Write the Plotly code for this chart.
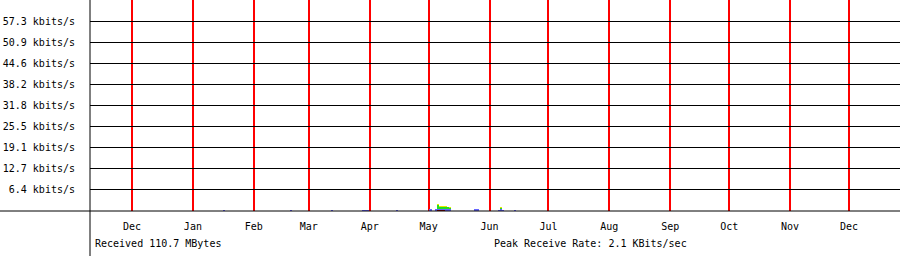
import plotly.graph_objects as go

# ---- data ----
month_ticks = ["2009-12-01", "2010-01-01", "2010-02-01", "2010-03-01", "2010-04-01",
               "2010-05-01", "2010-06-01", "2010-07-01", "2010-08-01", "2010-09-01",
               "2010-10-01", "2010-11-01", "2010-12-01"]
month_labels = ["Dec", "Jan", "Feb", "Mar", "Apr", "May", "Jun", "Jul", "Aug",
                "Sep", "Oct", "Nov", "Dec"]

y_ticks = [6.37, 12.74, 19.11, 25.48, 31.85, 38.22, 44.59, 50.96, 57.33]
y_labels = ["6.4 kbits/s", "12.7 kbits/s", "19.1 kbits/s", "25.5 kbits/s",
            "31.8 kbits/s", "38.2 kbits/s", "44.6 kbits/s", "50.9 kbits/s",
            "57.3 kbits/s"]

days = ["2010-01-17", "2010-02-20", "2010-03-13", "2010-03-29", "2010-03-30",
        "2010-03-31", "2010-04-15", "2010-05-02", "2010-05-05", "2010-05-06",
        "2010-05-07", "2010-05-08", "2010-05-09", "2010-05-10", "2010-05-11",
        "2010-05-12", "2010-05-25", "2010-05-26", "2010-06-06", "2010-06-07",
        "2010-06-08", "2010-06-14"]

total_kbits = [0.3, 0.3, 0.3, 0.3, 0.3, 0.3, 0.3, 0.5, 0.6, 2.1,
               1.5, 1.5, 1.4, 1.4, 1.3, 1.2, 0.4, 0.4, 0.3, 1.1, 0.3, 0.3]
tcp_kbits = [0, 0, 0, 0, 0, 0, 0, 0, 0, 1.8,
             1.3, 1.3, 1.2, 1.2, 1.1, 1.0, 0, 0, 0, 1.0, 0, 0]
http_kbits = [0.3, 0.3, 0.3, 0.3, 0.3, 0.3, 0.3, 0.5, 0.6, 0.7,
              0.6, 0.6, 0.6, 0.6, 0.6, 0.5, 0.4, 0.4, 0.3, 0.5, 0.3, 0.3]
udp_kbits = [0, 0, 0, 0, 0, 0, 0, 0, 0, 0.3,
             0.3, 0.3, 0.3, 0, 0, 0, 0, 0, 0, 0, 0, 0]

received_text = "Received 110.7 MBytes"
peak_text = "Peak Receive Rate: 2.1 KBits/sec"

# ---- figure ----
DAY_MS = 86400000
FONT = dict(family="DejaVu Sans Mono", size=10, color="black")

fig = go.Figure()
for vals, col in [(total_kbits, "#e8e800"), (tcp_kbits, "#22dd22"),
                  (http_kbits, "#6666ff"), (udp_kbits, "#800000")]:
    fig.add_trace(go.Bar(x=days, y=vals, width=DAY_MS, marker_color=col,
                         marker_line_width=0, showlegend=False))

fig.update_layout(
    width=900, height=256,
    margin=dict(l=90, r=0, t=0, b=45),
    paper_bgcolor="white", plot_bgcolor="white",
    barmode="overlay", bargap=0,
    font=FONT,
    xaxis=dict(
        type="date",
        range=["2009-11-09 15:00", "2010-12-26 23:00"],
        tickmode="array", tickvals=month_ticks, ticktext=month_labels,
        showgrid=True, gridcolor="#ff0000", gridwidth=2,
        ticks="", showline=False, zeroline=False,
        ticklabelstandoff=8, tickfont=FONT,
    ),
    yaxis=dict(
        range=[0, 63.75],
        tickmode="array", tickvals=y_ticks, ticktext=y_labels,
        showgrid=True, gridcolor="black", gridwidth=1,
        ticks="", showline=False, zeroline=False,
        ticklabelstandoff=14, tickfont=FONT,
    ),
    shapes=[
        dict(type="line", xref="paper", yref="paper", x0=-90 / 810, x1=1, y0=0, y1=0,
             line=dict(color="black", width=1), layer="above"),
        dict(type="line", xref="paper", yref="paper", x0=0, x1=0, y0=-45 / 211, y1=1,
             line=dict(color="black", width=1), layer="above"),
    ],
    annotations=[
        dict(text=received_text, xref="paper", yref="paper", x=3 / 810, y=-32 / 211,
             xanchor="left", yanchor="middle", showarrow=False, font=FONT),
        dict(text=peak_text, xref="paper", yref="paper", x=402 / 810, y=-32 / 211,
             xanchor="left", yanchor="middle", showarrow=False, font=FONT),
    ],
)

fig.write_html("out.html")
